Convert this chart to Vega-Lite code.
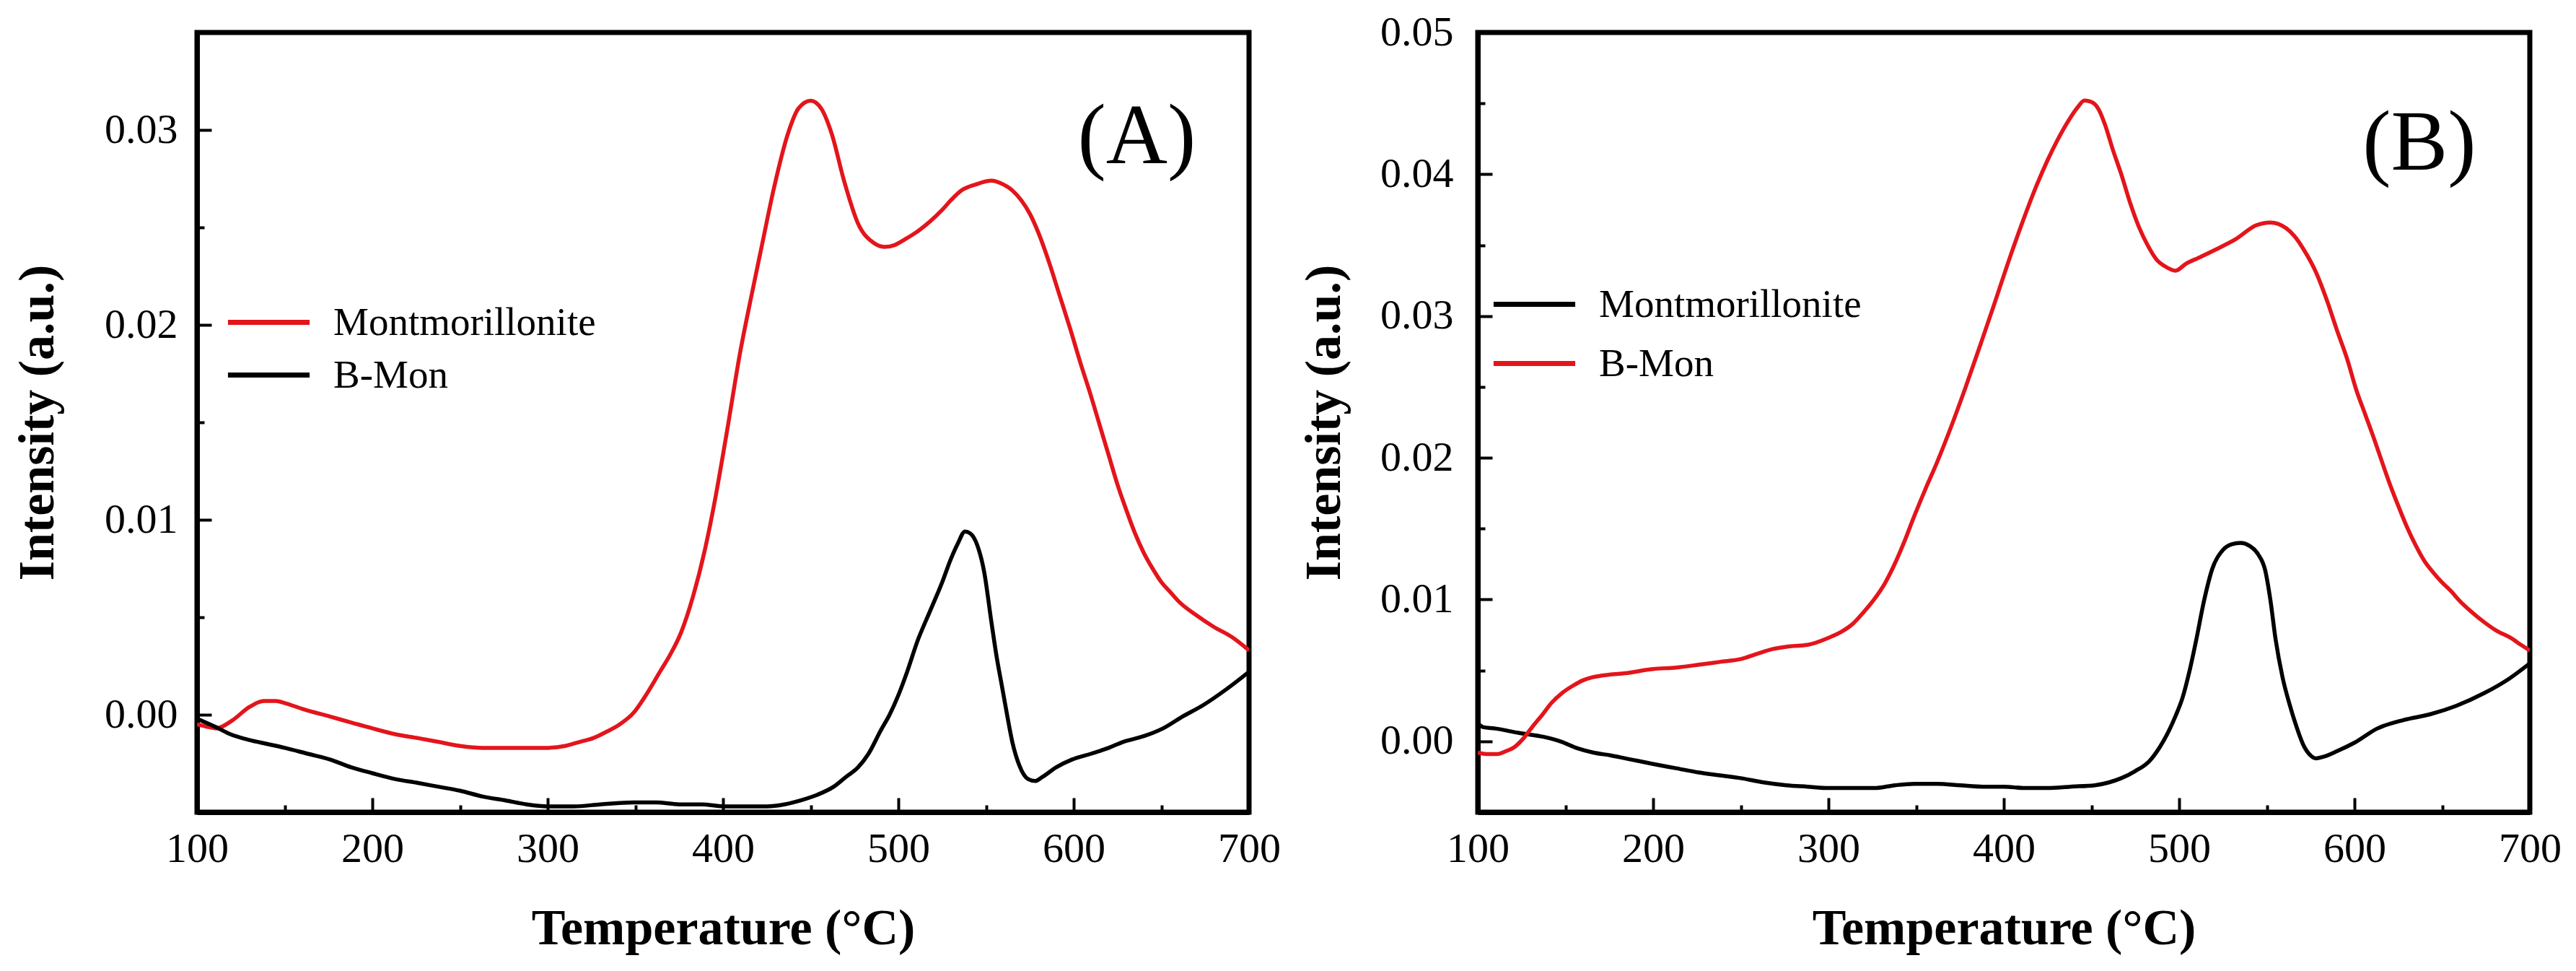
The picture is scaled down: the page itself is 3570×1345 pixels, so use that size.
{
  "$schema": "https://vega.github.io/schema/vega-lite/v6.json",
  "background": "white",
  "padding": {"left": 13, "top": 12, "right": 0, "bottom": 0},
  "spacing": 18,
  "config": {
    "font": "Liberation Serif",
    "view": {"stroke": "black", "strokeWidth": 7},
    "axis": {
      "grid": false,
      "labelFont": "Liberation Serif", "labelFontSize": 58, "labelColor": "black",
      "labelFlush": false, "labelOverlap": false,
      "tickColor": "black", "tickWidth": 4,
      "domainColor": "black", "domainWidth": 7,
      "titleFont": "Liberation Serif", "titleFontSize": 70, "titleFontWeight": "bold", "titleColor": "black"
    },
    "legend": {
      "labelFont": "Liberation Serif", "labelFontSize": 55, "labelColor": "black", "labelLimit": 1000,
      "symbolType": "M-4,0H4", "symbolSize": 800, "symbolStrokeWidth": 7, "labelOffset": 62
    }
  },
  "resolve": {"scale": {"color": "independent"}, "legend": {"color": "independent"}},
  "hconcat": [
    {
      "width": 1458, "height": 1080,
      "layer": [
        {
          "data": {"values": [
            {"series": "Montmorillonite", "T": 100, "I": -0.0005},
            {"series": "Montmorillonite", "T": 105, "I": -0.0006},
            {"series": "Montmorillonite", "T": 111, "I": -0.0007},
            {"series": "Montmorillonite", "T": 120, "I": -0.0003},
            {"series": "Montmorillonite", "T": 130, "I": 0.0004},
            {"series": "Montmorillonite", "T": 138, "I": 0.0007},
            {"series": "Montmorillonite", "T": 145, "I": 0.0007},
            {"series": "Montmorillonite", "T": 150, "I": 0.0006},
            {"series": "Montmorillonite", "T": 160, "I": 0.0003},
            {"series": "Montmorillonite", "T": 176, "I": -0.0001},
            {"series": "Montmorillonite", "T": 188, "I": -0.0004},
            {"series": "Montmorillonite", "T": 200, "I": -0.0007},
            {"series": "Montmorillonite", "T": 213, "I": -0.0010},
            {"series": "Montmorillonite", "T": 226, "I": -0.0012},
            {"series": "Montmorillonite", "T": 238, "I": -0.0014},
            {"series": "Montmorillonite", "T": 250, "I": -0.0016},
            {"series": "Montmorillonite", "T": 263, "I": -0.0017},
            {"series": "Montmorillonite", "T": 276, "I": -0.0017},
            {"series": "Montmorillonite", "T": 290, "I": -0.0017},
            {"series": "Montmorillonite", "T": 300, "I": -0.0017},
            {"series": "Montmorillonite", "T": 310, "I": -0.0016},
            {"series": "Montmorillonite", "T": 318, "I": -0.0014},
            {"series": "Montmorillonite", "T": 326, "I": -0.0012},
            {"series": "Montmorillonite", "T": 333, "I": -0.0009},
            {"series": "Montmorillonite", "T": 341, "I": -0.0005},
            {"series": "Montmorillonite", "T": 349, "I": 0.0001},
            {"series": "Montmorillonite", "T": 356, "I": 0.0010},
            {"series": "Montmorillonite", "T": 364, "I": 0.0022},
            {"series": "Montmorillonite", "T": 370, "I": 0.0031},
            {"series": "Montmorillonite", "T": 376, "I": 0.0042},
            {"series": "Montmorillonite", "T": 383, "I": 0.0061},
            {"series": "Montmorillonite", "T": 390, "I": 0.0086},
            {"series": "Montmorillonite", "T": 396, "I": 0.0113},
            {"series": "Montmorillonite", "T": 402, "I": 0.0144},
            {"series": "Montmorillonite", "T": 410, "I": 0.0187},
            {"series": "Montmorillonite", "T": 416, "I": 0.0214},
            {"series": "Montmorillonite", "T": 422, "I": 0.0240},
            {"series": "Montmorillonite", "T": 429, "I": 0.0270},
            {"series": "Montmorillonite", "T": 437, "I": 0.0298},
            {"series": "Montmorillonite", "T": 443, "I": 0.0311},
            {"series": "Montmorillonite", "T": 450, "I": 0.0315},
            {"series": "Montmorillonite", "T": 456, "I": 0.0311},
            {"series": "Montmorillonite", "T": 462, "I": 0.0298},
            {"series": "Montmorillonite", "T": 469, "I": 0.0274},
            {"series": "Montmorillonite", "T": 477, "I": 0.0252},
            {"series": "Montmorillonite", "T": 486, "I": 0.0242},
            {"series": "Montmorillonite", "T": 492, "I": 0.0240},
            {"series": "Montmorillonite", "T": 498, "I": 0.0241},
            {"series": "Montmorillonite", "T": 504, "I": 0.0244},
            {"series": "Montmorillonite", "T": 511, "I": 0.0248},
            {"series": "Montmorillonite", "T": 518, "I": 0.0253},
            {"series": "Montmorillonite", "T": 525, "I": 0.0259},
            {"series": "Montmorillonite", "T": 530, "I": 0.0264},
            {"series": "Montmorillonite", "T": 536, "I": 0.0269},
            {"series": "Montmorillonite", "T": 544, "I": 0.0272},
            {"series": "Montmorillonite", "T": 553, "I": 0.0274},
            {"series": "Montmorillonite", "T": 560, "I": 0.0272},
            {"series": "Montmorillonite", "T": 565, "I": 0.0269},
            {"series": "Montmorillonite", "T": 570, "I": 0.0264},
            {"series": "Montmorillonite", "T": 575, "I": 0.0257},
            {"series": "Montmorillonite", "T": 580, "I": 0.0247},
            {"series": "Montmorillonite", "T": 586, "I": 0.0232},
            {"series": "Montmorillonite", "T": 592, "I": 0.0215},
            {"series": "Montmorillonite", "T": 598, "I": 0.0198},
            {"series": "Montmorillonite", "T": 604, "I": 0.0180},
            {"series": "Montmorillonite", "T": 609, "I": 0.0166},
            {"series": "Montmorillonite", "T": 615, "I": 0.0148},
            {"series": "Montmorillonite", "T": 620, "I": 0.0133},
            {"series": "Montmorillonite", "T": 625, "I": 0.0118},
            {"series": "Montmorillonite", "T": 630, "I": 0.0105},
            {"series": "Montmorillonite", "T": 635, "I": 0.0093},
            {"series": "Montmorillonite", "T": 640, "I": 0.0083},
            {"series": "Montmorillonite", "T": 645, "I": 0.0075},
            {"series": "Montmorillonite", "T": 650, "I": 0.0068},
            {"series": "Montmorillonite", "T": 655, "I": 0.0063},
            {"series": "Montmorillonite", "T": 660, "I": 0.0058},
            {"series": "Montmorillonite", "T": 670, "I": 0.0051},
            {"series": "Montmorillonite", "T": 680, "I": 0.0045},
            {"series": "Montmorillonite", "T": 690, "I": 0.0040},
            {"series": "Montmorillonite", "T": 700, "I": 0.0033},
            {"series": "B-Mon", "T": 100, "I": -0.0002},
            {"series": "B-Mon", "T": 110, "I": -0.0006},
            {"series": "B-Mon", "T": 119, "I": -0.0010},
            {"series": "B-Mon", "T": 130, "I": -0.0013},
            {"series": "B-Mon", "T": 140, "I": -0.0015},
            {"series": "B-Mon", "T": 150, "I": -0.0017},
            {"series": "B-Mon", "T": 163, "I": -0.0020},
            {"series": "B-Mon", "T": 176, "I": -0.0023},
            {"series": "B-Mon", "T": 188, "I": -0.0027},
            {"series": "B-Mon", "T": 200, "I": -0.0030},
            {"series": "B-Mon", "T": 213, "I": -0.0033},
            {"series": "B-Mon", "T": 226, "I": -0.0035},
            {"series": "B-Mon", "T": 238, "I": -0.0037},
            {"series": "B-Mon", "T": 250, "I": -0.0039},
            {"series": "B-Mon", "T": 263, "I": -0.0042},
            {"series": "B-Mon", "T": 276, "I": -0.0044},
            {"series": "B-Mon", "T": 288, "I": -0.0046},
            {"series": "B-Mon", "T": 300, "I": -0.0047},
            {"series": "B-Mon", "T": 315, "I": -0.0047},
            {"series": "B-Mon", "T": 330, "I": -0.0046},
            {"series": "B-Mon", "T": 349, "I": -0.0045},
            {"series": "B-Mon", "T": 362, "I": -0.0045},
            {"series": "B-Mon", "T": 375, "I": -0.0046},
            {"series": "B-Mon", "T": 388, "I": -0.0046},
            {"series": "B-Mon", "T": 400, "I": -0.0047},
            {"series": "B-Mon", "T": 412, "I": -0.0047},
            {"series": "B-Mon", "T": 425, "I": -0.0047},
            {"series": "B-Mon", "T": 435, "I": -0.0046},
            {"series": "B-Mon", "T": 444, "I": -0.0044},
            {"series": "B-Mon", "T": 454, "I": -0.0041},
            {"series": "B-Mon", "T": 463, "I": -0.0037},
            {"series": "B-Mon", "T": 470, "I": -0.0032},
            {"series": "B-Mon", "T": 477, "I": -0.0027},
            {"series": "B-Mon", "T": 483, "I": -0.0020},
            {"series": "B-Mon", "T": 490, "I": -0.0008},
            {"series": "B-Mon", "T": 495, "I": 0.0000},
            {"series": "B-Mon", "T": 500, "I": 0.0010},
            {"series": "B-Mon", "T": 505, "I": 0.0022},
            {"series": "B-Mon", "T": 511, "I": 0.0038},
            {"series": "B-Mon", "T": 518, "I": 0.0053},
            {"series": "B-Mon", "T": 525, "I": 0.0068},
            {"series": "B-Mon", "T": 530, "I": 0.0080},
            {"series": "B-Mon", "T": 534, "I": 0.0088},
            {"series": "B-Mon", "T": 538, "I": 0.0094},
            {"series": "B-Mon", "T": 541, "I": 0.0093},
            {"series": "B-Mon", "T": 545, "I": 0.0087},
            {"series": "B-Mon", "T": 549, "I": 0.0073},
            {"series": "B-Mon", "T": 553, "I": 0.0048},
            {"series": "B-Mon", "T": 556, "I": 0.0030},
            {"series": "B-Mon", "T": 559, "I": 0.0015},
            {"series": "B-Mon", "T": 562, "I": 0.0000},
            {"series": "B-Mon", "T": 565, "I": -0.0014},
            {"series": "B-Mon", "T": 569, "I": -0.0026},
            {"series": "B-Mon", "T": 574, "I": -0.0033},
            {"series": "B-Mon", "T": 578, "I": -0.0034},
            {"series": "B-Mon", "T": 582, "I": -0.0032},
            {"series": "B-Mon", "T": 590, "I": -0.0027},
            {"series": "B-Mon", "T": 599, "I": -0.0023},
            {"series": "B-Mon", "T": 610, "I": -0.0020},
            {"series": "B-Mon", "T": 620, "I": -0.0017},
            {"series": "B-Mon", "T": 628, "I": -0.0014},
            {"series": "B-Mon", "T": 640, "I": -0.0011},
            {"series": "B-Mon", "T": 651, "I": -0.0007},
            {"series": "B-Mon", "T": 662, "I": -0.0001},
            {"series": "B-Mon", "T": 674, "I": 0.0005},
            {"series": "B-Mon", "T": 687, "I": 0.0013},
            {"series": "B-Mon", "T": 700, "I": 0.0022}
          ]},
          "mark": {"type": "line", "strokeWidth": 5.5, "clip": true, "interpolate": "monotone"},
          "encoding": {
            "x": {
              "field": "T", "type": "quantitative",
              "scale": {"domain": [100, 700], "nice": false, "zero": false},
              "axis": {
                "title": "Temperature (°C)", "titleY": 182, "titleBaseline": "alphabetic",
                "values": [100, 150, 200, 250, 300, 350, 400, 450, 500, 550, 600, 650, 700],
                "format": "d",
                "labelExpr": "datum.value % 100 === 0 ? datum.label : ''",
                "labelPadding": 42,
                "tickSize": {"condition": {"test": "datum.value % 100 === 0", "value": -20}, "value": -10}
              }
            },
            "y": {
              "field": "I", "type": "quantitative",
              "scale": {"domain": [-0.005, 0.035], "nice": false, "zero": false},
              "axis": {
                "title": "Intensity (a.u.)", "titleX": -221, "titleBaseline": "middle", "titleAngle": -90,
                "values": [0, 0.005, 0.01, 0.015, 0.02, 0.025, 0.03],
                "format": ".2f",
                "labelExpr": "abs(datum.value * 100 - round(datum.value * 100)) < 0.0001 ? datum.label : ''",
                "labelPadding": 47,
                "tickSize": {"condition": {"test": "abs(datum.value * 100 - round(datum.value * 100)) < 0.0001", "value": -20}, "value": -10}
              }
            },
            "color": {
              "field": "series", "type": "nominal",
              "scale": {"domain": ["Montmorillonite", "B-Mon"], "range": ["#e3151b", "#000000"]},
              "legend": {"title": null, "orient": "none", "legendX": 72, "legendY": 374, "rowPadding": 17}
            }
          }
        },
        {
          "data": {"values": [{"label": "(A)", "T": 636, "I": 0.0283}]},
          "mark": {"type": "text", "fontSize": 118, "font": "Liberation Serif", "align": "center", "baseline": "alphabetic", "color": "black"},
          "encoding": {
            "x": {"field": "T", "type": "quantitative"},
            "y": {"field": "I", "type": "quantitative"},
            "text": {"field": "label"}
          }
        }
      ]
    },
    {
      "width": 1458, "height": 1080,
      "layer": [
        {
          "data": {"values": [
            {"series": "Montmorillonite", "T": 100, "I": 0.0013},
            {"series": "Montmorillonite", "T": 103, "I": 0.0010},
            {"series": "Montmorillonite", "T": 110, "I": 0.0009},
            {"series": "Montmorillonite", "T": 123, "I": 0.0006},
            {"series": "Montmorillonite", "T": 138, "I": 0.0003},
            {"series": "Montmorillonite", "T": 147, "I": 0.0000},
            {"series": "Montmorillonite", "T": 157, "I": -0.0005},
            {"series": "Montmorillonite", "T": 166, "I": -0.0008},
            {"series": "Montmorillonite", "T": 176, "I": -0.0010},
            {"series": "Montmorillonite", "T": 188, "I": -0.0013},
            {"series": "Montmorillonite", "T": 200, "I": -0.0016},
            {"series": "Montmorillonite", "T": 213, "I": -0.0019},
            {"series": "Montmorillonite", "T": 226, "I": -0.0022},
            {"series": "Montmorillonite", "T": 238, "I": -0.0024},
            {"series": "Montmorillonite", "T": 250, "I": -0.0026},
            {"series": "Montmorillonite", "T": 263, "I": -0.0029},
            {"series": "Montmorillonite", "T": 276, "I": -0.0031},
            {"series": "Montmorillonite", "T": 288, "I": -0.0032},
            {"series": "Montmorillonite", "T": 300, "I": -0.0033},
            {"series": "Montmorillonite", "T": 313, "I": -0.0033},
            {"series": "Montmorillonite", "T": 326, "I": -0.0033},
            {"series": "Montmorillonite", "T": 338, "I": -0.0031},
            {"series": "Montmorillonite", "T": 349, "I": -0.0030},
            {"series": "Montmorillonite", "T": 362, "I": -0.0030},
            {"series": "Montmorillonite", "T": 375, "I": -0.0031},
            {"series": "Montmorillonite", "T": 388, "I": -0.0032},
            {"series": "Montmorillonite", "T": 400, "I": -0.0032},
            {"series": "Montmorillonite", "T": 412, "I": -0.0033},
            {"series": "Montmorillonite", "T": 425, "I": -0.0033},
            {"series": "Montmorillonite", "T": 438, "I": -0.0032},
            {"series": "Montmorillonite", "T": 452, "I": -0.0031},
            {"series": "Montmorillonite", "T": 460, "I": -0.0029},
            {"series": "Montmorillonite", "T": 467, "I": -0.0026},
            {"series": "Montmorillonite", "T": 475, "I": -0.0021},
            {"series": "Montmorillonite", "T": 483, "I": -0.0014},
            {"series": "Montmorillonite", "T": 489, "I": -0.0004},
            {"series": "Montmorillonite", "T": 494, "I": 0.0007},
            {"series": "Montmorillonite", "T": 498, "I": 0.0018},
            {"series": "Montmorillonite", "T": 502, "I": 0.0031},
            {"series": "Montmorillonite", "T": 506, "I": 0.0050},
            {"series": "Montmorillonite", "T": 510, "I": 0.0073},
            {"series": "Montmorillonite", "T": 514, "I": 0.0098},
            {"series": "Montmorillonite", "T": 519, "I": 0.0122},
            {"series": "Montmorillonite", "T": 525, "I": 0.0135},
            {"series": "Montmorillonite", "T": 530, "I": 0.0139},
            {"series": "Montmorillonite", "T": 535, "I": 0.0140},
            {"series": "Montmorillonite", "T": 540, "I": 0.0138},
            {"series": "Montmorillonite", "T": 545, "I": 0.0132},
            {"series": "Montmorillonite", "T": 549, "I": 0.0121},
            {"series": "Montmorillonite", "T": 552, "I": 0.0100},
            {"series": "Montmorillonite", "T": 555, "I": 0.0072},
            {"series": "Montmorillonite", "T": 559, "I": 0.0045},
            {"series": "Montmorillonite", "T": 563, "I": 0.0026},
            {"series": "Montmorillonite", "T": 567, "I": 0.0010},
            {"series": "Montmorillonite", "T": 571, "I": -0.0003},
            {"series": "Montmorillonite", "T": 575, "I": -0.0010},
            {"series": "Montmorillonite", "T": 578, "I": -0.0012},
            {"series": "Montmorillonite", "T": 582, "I": -0.0011},
            {"series": "Montmorillonite", "T": 590, "I": -0.0007},
            {"series": "Montmorillonite", "T": 600, "I": -0.0001},
            {"series": "Montmorillonite", "T": 613, "I": 0.0009},
            {"series": "Montmorillonite", "T": 628, "I": 0.0015},
            {"series": "Montmorillonite", "T": 643, "I": 0.0019},
            {"series": "Montmorillonite", "T": 658, "I": 0.0025},
            {"series": "Montmorillonite", "T": 674, "I": 0.0034},
            {"series": "Montmorillonite", "T": 688, "I": 0.0044},
            {"series": "Montmorillonite", "T": 700, "I": 0.0055},
            {"series": "B-Mon", "T": 100, "I": -0.0008},
            {"series": "B-Mon", "T": 105, "I": -0.0009},
            {"series": "B-Mon", "T": 111, "I": -0.0009},
            {"series": "B-Mon", "T": 116, "I": -0.0007},
            {"series": "B-Mon", "T": 121, "I": -0.0004},
            {"series": "B-Mon", "T": 126, "I": 0.0002},
            {"series": "B-Mon", "T": 131, "I": 0.0010},
            {"series": "B-Mon", "T": 137, "I": 0.0019},
            {"series": "B-Mon", "T": 142, "I": 0.0027},
            {"series": "B-Mon", "T": 148, "I": 0.0034},
            {"series": "B-Mon", "T": 154, "I": 0.0039},
            {"series": "B-Mon", "T": 160, "I": 0.0043},
            {"series": "B-Mon", "T": 165, "I": 0.0045},
            {"series": "B-Mon", "T": 175, "I": 0.0047},
            {"series": "B-Mon", "T": 184, "I": 0.0048},
            {"series": "B-Mon", "T": 200, "I": 0.0051},
            {"series": "B-Mon", "T": 213, "I": 0.0052},
            {"series": "B-Mon", "T": 226, "I": 0.0054},
            {"series": "B-Mon", "T": 238, "I": 0.0056},
            {"series": "B-Mon", "T": 250, "I": 0.0058},
            {"series": "B-Mon", "T": 260, "I": 0.0062},
            {"series": "B-Mon", "T": 268, "I": 0.0065},
            {"series": "B-Mon", "T": 278, "I": 0.0067},
            {"series": "B-Mon", "T": 288, "I": 0.0068},
            {"series": "B-Mon", "T": 300, "I": 0.0073},
            {"series": "B-Mon", "T": 307, "I": 0.0077},
            {"series": "B-Mon", "T": 314, "I": 0.0083},
            {"series": "B-Mon", "T": 320, "I": 0.0091},
            {"series": "B-Mon", "T": 326, "I": 0.0100},
            {"series": "B-Mon", "T": 332, "I": 0.0111},
            {"series": "B-Mon", "T": 337, "I": 0.0123},
            {"series": "B-Mon", "T": 343, "I": 0.0140},
            {"series": "B-Mon", "T": 349, "I": 0.0159},
            {"series": "B-Mon", "T": 355, "I": 0.0177},
            {"series": "B-Mon", "T": 362, "I": 0.0197},
            {"series": "B-Mon", "T": 370, "I": 0.0222},
            {"series": "B-Mon", "T": 378, "I": 0.0249},
            {"series": "B-Mon", "T": 387, "I": 0.0281},
            {"series": "B-Mon", "T": 395, "I": 0.0310},
            {"series": "B-Mon", "T": 402, "I": 0.0336},
            {"series": "B-Mon", "T": 410, "I": 0.0364},
            {"series": "B-Mon", "T": 418, "I": 0.0390},
            {"series": "B-Mon", "T": 425, "I": 0.0410},
            {"series": "B-Mon", "T": 431, "I": 0.0425},
            {"series": "B-Mon", "T": 437, "I": 0.0438},
            {"series": "B-Mon", "T": 442, "I": 0.0447},
            {"series": "B-Mon", "T": 446, "I": 0.0452},
            {"series": "B-Mon", "T": 450, "I": 0.0451},
            {"series": "B-Mon", "T": 454, "I": 0.0446},
            {"series": "B-Mon", "T": 458, "I": 0.0434},
            {"series": "B-Mon", "T": 462, "I": 0.0418},
            {"series": "B-Mon", "T": 467, "I": 0.0400},
            {"series": "B-Mon", "T": 472, "I": 0.0380},
            {"series": "B-Mon", "T": 477, "I": 0.0363},
            {"series": "B-Mon", "T": 482, "I": 0.0350},
            {"series": "B-Mon", "T": 487, "I": 0.0340},
            {"series": "B-Mon", "T": 492, "I": 0.0335},
            {"series": "B-Mon", "T": 498, "I": 0.0332},
            {"series": "B-Mon", "T": 504, "I": 0.0337},
            {"series": "B-Mon", "T": 511, "I": 0.0341},
            {"series": "B-Mon", "T": 521, "I": 0.0347},
            {"series": "B-Mon", "T": 532, "I": 0.0354},
            {"series": "B-Mon", "T": 544, "I": 0.0364},
            {"series": "B-Mon", "T": 552, "I": 0.0366},
            {"series": "B-Mon", "T": 561, "I": 0.0362},
            {"series": "B-Mon", "T": 566, "I": 0.0356},
            {"series": "B-Mon", "T": 571, "I": 0.0347},
            {"series": "B-Mon", "T": 578, "I": 0.0331},
            {"series": "B-Mon", "T": 584, "I": 0.0312},
            {"series": "B-Mon", "T": 590, "I": 0.0290},
            {"series": "B-Mon", "T": 596, "I": 0.0269},
            {"series": "B-Mon", "T": 601, "I": 0.0248},
            {"series": "B-Mon", "T": 606, "I": 0.0231},
            {"series": "B-Mon", "T": 611, "I": 0.0214},
            {"series": "B-Mon", "T": 616, "I": 0.0196},
            {"series": "B-Mon", "T": 620, "I": 0.0182},
            {"series": "B-Mon", "T": 625, "I": 0.0166},
            {"series": "B-Mon", "T": 630, "I": 0.0151},
            {"series": "B-Mon", "T": 635, "I": 0.0138},
            {"series": "B-Mon", "T": 640, "I": 0.0127},
            {"series": "B-Mon", "T": 645, "I": 0.0119},
            {"series": "B-Mon", "T": 650, "I": 0.0112},
            {"series": "B-Mon", "T": 655, "I": 0.0106},
            {"series": "B-Mon", "T": 660, "I": 0.0099},
            {"series": "B-Mon", "T": 667, "I": 0.0091},
            {"series": "B-Mon", "T": 674, "I": 0.0084},
            {"series": "B-Mon", "T": 681, "I": 0.0078},
            {"series": "B-Mon", "T": 689, "I": 0.0073},
            {"series": "B-Mon", "T": 695, "I": 0.0068},
            {"series": "B-Mon", "T": 700, "I": 0.0064}
          ]},
          "mark": {"type": "line", "strokeWidth": 5.5, "clip": true, "interpolate": "monotone"},
          "encoding": {
            "x": {
              "field": "T", "type": "quantitative",
              "scale": {"domain": [100, 700], "nice": false, "zero": false},
              "axis": {
                "title": "Temperature (°C)", "titleY": 182, "titleBaseline": "alphabetic",
                "values": [100, 150, 200, 250, 300, 350, 400, 450, 500, 550, 600, 650, 700],
                "format": "d",
                "labelExpr": "datum.value % 100 === 0 ? datum.label : ''",
                "labelPadding": 42,
                "tickSize": {"condition": {"test": "datum.value % 100 === 0", "value": -20}, "value": -10}
              }
            },
            "y": {
              "field": "I", "type": "quantitative",
              "scale": {"domain": [-0.005, 0.05], "nice": false, "zero": false},
              "axis": {
                "title": "Intensity (a.u.)", "titleX": -213, "titleBaseline": "middle", "titleAngle": -90,
                "values": [0, 0.005, 0.01, 0.015, 0.02, 0.025, 0.03, 0.035, 0.04, 0.045, 0.05],
                "format": ".2f",
                "labelExpr": "abs(datum.value * 100 - round(datum.value * 100)) < 0.0001 ? datum.label : ''",
                "labelPadding": 54,
                "tickSize": {"condition": {"test": "abs(datum.value * 100 - round(datum.value * 100)) < 0.0001", "value": -20}, "value": -10}
              }
            },
            "color": {
              "field": "series", "type": "nominal",
              "scale": {"domain": ["Montmorillonite", "B-Mon"], "range": ["#000000", "#e3151b"]},
              "legend": {"title": null, "orient": "none", "legendX": 51, "legendY": 349, "rowPadding": 26}
            }
          }
        },
        {
          "data": {"values": [{"label": "(B)", "T": 637, "I": 0.0403}]},
          "mark": {"type": "text", "fontSize": 118, "font": "Liberation Serif", "align": "center", "baseline": "alphabetic", "color": "black"},
          "encoding": {
            "x": {"field": "T", "type": "quantitative"},
            "y": {"field": "I", "type": "quantitative"},
            "text": {"field": "label"}
          }
        }
      ]
    }
  ]
}
